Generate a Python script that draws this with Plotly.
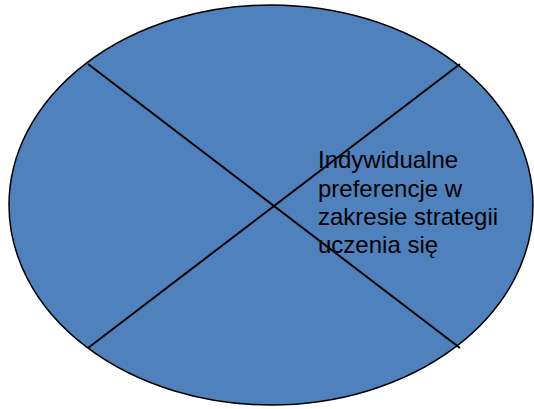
import plotly.graph_objects as go

# Diagram content
ellipse_center = [271, 205]
ellipse_radii = [262, 200]
line_a = [[88, 64], [460, 348]]   # top-left to bottom-right
line_b = [[460, 64], [88, 348]]   # top-right to bottom-left
text_lines = ["Indywidualne", "preferencje w", "zakresie strategii", "uczenia się"]
text_x = 316
text_y = [159, 188, 216, 244]

FILL = "#4F81BD"

fig = go.Figure()
fig.add_trace(go.Scatter(x=[0], y=[0], mode="markers", marker=dict(opacity=0), hoverinfo="skip", showlegend=False))

cx, cy = ellipse_center
rx, ry = ellipse_radii
shapes = [
    dict(type="circle", xref="x", yref="y", x0=cx - rx, x1=cx + rx, y0=cy - ry, y1=cy + ry,
         fillcolor=FILL, line=dict(color="black", width=1.5), layer="below"),
]
for seg in (line_a, line_b):
    shapes.append(dict(type="line", xref="x", yref="y", x0=seg[0][0], y0=seg[0][1],
                       x1=seg[1][0], y1=seg[1][1], line=dict(color="black", width=2), layer="below"))

annotations = []
for t, y in zip(text_lines, text_y):
    annotations.append(dict(x=text_x, y=y, xref="x", yref="y", text=t, showarrow=False,
                            xanchor="left", yanchor="middle",
                            font=dict(family="Liberation Sans, Arial", size=24, color="black")))

fig.update_layout(
    width=534, height=409,
    margin=dict(l=0, r=0, t=0, b=0),
    paper_bgcolor="white", plot_bgcolor="white",
    xaxis=dict(range=[0, 534], visible=False, fixedrange=True),
    yaxis=dict(range=[409, 0], visible=False, fixedrange=True),
    shapes=shapes, annotations=annotations, showlegend=False,
)
fig.write_html("out.html", config={"displayModeBar": False},
               post_script="document.body.style.margin='0';document.body.style.overflow='hidden';")
